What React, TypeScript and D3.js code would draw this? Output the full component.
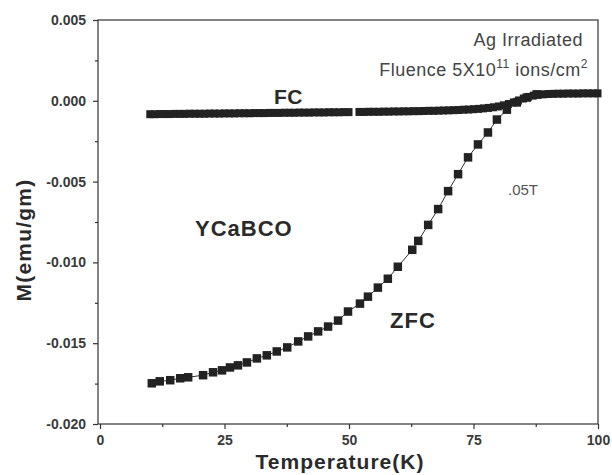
import React, { useRef, useEffect } from "react";
import { select, scaleLinear, axisBottom, axisLeft, line } from "d3";

// FC branch (field cooled), roughly every 1 K
const fcTemp = [
  10, 11, 12, 13, 14, 15, 16, 17, 18, 19, 20, 21, 22, 23, 24, 25, 26, 27, 28, 29,
  30, 31, 32, 33, 34, 35, 36, 37, 38, 39, 40, 41, 42, 43, 44, 45, 46, 47, 48, 49,
  50, 52, 53, 54, 55, 56, 57, 58, 59, 60, 61, 62, 63, 64, 65, 66, 67, 68, 69, 70,
  71, 72, 73, 74, 75, 76, 77, 78, 79, 80, 81, 82, 83, 84, 85, 86, 87, 88, 89, 90,
  91, 92, 93, 94, 95, 96, 97, 98, 99, 100
];
const fcM = [
  -0.00083, -0.00083, -0.00082, -0.00082, -0.00082, -0.00081, -0.00081, -0.00081, -0.0008, -0.0008,
  -0.0008, -0.0008, -0.00079, -0.00079, -0.00079, -0.00078, -0.00078, -0.00078, -0.00077, -0.00077,
  -0.00077, -0.00076, -0.00076, -0.00076, -0.00075, -0.00075, -0.00075, -0.00074, -0.00074, -0.00074,
  -0.00073, -0.00073, -0.00073, -0.00072, -0.00072, -0.00072, -0.00071, -0.00071, -0.00071, -0.0007,
  -0.0007, -0.00069, -0.00069, -0.00068, -0.00068, -0.00068, -0.00067, -0.00067, -0.00066, -0.00066,
  -0.00065, -0.00065, -0.00064, -0.00064, -0.00063, -0.00062, -0.00062, -0.00061, -0.0006, -0.00059,
  -0.00058, -0.00057, -0.00055, -0.00054, -0.00052, -0.0005, -0.00047, -0.00044, -0.0004, -0.00035,
  -0.00028, -0.0002, -0.0001, 0.00002, 0.00014, 0.00024, 0.00032, 0.00037, 0.0004, 0.00042,
  0.00043, 0.00044, 0.00044, 0.00045, 0.00045, 0.00045, 0.00046, 0.00046, 0.00046, 0.00046
];

// ZFC branch (zero field cooled)
const zfcTemp = [
  10.4, 12.0, 14.1, 16.1, 17.7, 20.7, 22.7, 24.5, 26.1, 27.7, 29.5, 31.5, 33.5, 35.5, 37.6,
  39.8, 41.8, 43.8, 45.8, 47.8, 49.8, 52.2, 53.8, 55.8, 57.8, 59.8, 62.7, 63.9, 65.9, 67.9,
  69.9, 71.9, 73.9, 75.9, 77.9, 79.7, 81.7, 83.7, 85.7, 87.7
];
const zfcM = [
  -0.01748, -0.01736, -0.01729, -0.01717, -0.01711, -0.01698, -0.0168, -0.01668, -0.0165, -0.01637,
  -0.01619, -0.01594, -0.01575, -0.01551, -0.01526, -0.01489, -0.01458, -0.01427, -0.01397, -0.0136,
  -0.01304, -0.01255, -0.01212, -0.01156, -0.01101, -0.01027, -0.00922, -0.00867, -0.00768, -0.0067,
  -0.00559, -0.00454, -0.0035, -0.0027, -0.00196, -0.00116, -0.00055, -0.0001, 0.0002, 0.0004
];

const xTicks = [0, 25, 50, 75, 100];
const yTicks = [0.005, 0.0, -0.005, -0.01, -0.015, -0.02];
const xMinor = [12.5, 37.5, 62.5, 87.5];
const yMinor = [0.0025, -0.0025, -0.0075, -0.0125, -0.0175];

const W = 612;
const H = 475;
const left = 98;
const right = 598;
const top = 20;
const bottom = 424;
const font = "Liberation Sans, Arial, sans-serif";

const App = () => {
  const gRef = useRef(null);

  useEffect(() => {
    const root = select(gRef.current);
    root.selectAll("*").remove();

    const x = scaleLinear().domain([0, 100]).range([left + 2, right]);
    const y = scaleLinear().domain([-0.02, 0.005]).range([bottom, top]);

    // frame
    root
      .append("rect")
      .attr("x", left)
      .attr("y", top)
      .attr("width", right - left)
      .attr("height", bottom - top)
      .attr("fill", "none")
      .attr("stroke", "#333")
      .attr("stroke-width", 1.2);

    // minor ticks
    root
      .append("g")
      .attr("transform", `translate(0,${bottom})`)
      .call(axisBottom(x).tickValues(xMinor).tickSize(3).tickFormat(() => ""))
      .call(g => g.select(".domain").remove());
    root
      .append("g")
      .attr("transform", `translate(${left},0)`)
      .call(axisLeft(y).tickValues(yMinor).tickSize(3).tickFormat(() => ""))
      .call(g => g.select(".domain").remove());

    // major ticks
    root
      .append("g")
      .attr("transform", `translate(0,${bottom})`)
      .call(axisBottom(x).tickValues(xTicks).tickSize(5).tickPadding(6).tickFormat(d => String(d)))
      .call(g => g.select(".domain").remove());
    root
      .append("g")
      .attr("transform", `translate(${left},0)`)
      .call(axisLeft(y).tickValues(yTicks).tickSize(5).tickPadding(7).tickFormat(d => (+d).toFixed(3)))
      .call(g => g.select(".domain").remove());

    root.selectAll(".tick line").attr("stroke", "#333").attr("stroke-width", 1.2);
    root
      .selectAll(".tick text")
      .attr("fill", "#3a3a3a")
      .attr("font-family", font)
      .attr("font-weight", "bold")
      .attr("font-size", 14);

    // FC markers
    root
      .append("g")
      .selectAll("rect")
      .data(fcTemp.map((t, i) => [t, fcM[i]]))
      .join("rect")
      .attr("x", d => x(d[0]) - 3.5)
      .attr("y", d => y(d[1]) - 4)
      .attr("width", 7)
      .attr("height", 8)
      .attr("fill", "#222");

    // ZFC line + markers
    const zfc = zfcTemp.map((t, i) => [t, zfcM[i]]);
    const myLine = line()
      .x(d => x(d[0]))
      .y(d => y(d[1]));
    root
      .append("path")
      .attr("d", myLine(zfc))
      .attr("fill", "none")
      .attr("stroke", "#333")
      .attr("stroke-width", 1);
    root
      .append("g")
      .selectAll("rect")
      .data(zfc)
      .join("rect")
      .attr("x", d => x(d[0]) - 4.25)
      .attr("y", d => y(d[1]) - 4.25)
      .attr("width", 8.5)
      .attr("height", 8.5)
      .attr("fill", "#222");
  }, []);

  return (
    <svg
      width={W}
      height={H}
      style={{ position: "absolute", left: 0, top: 0, background: "#fff", display: "block" }}
    >
      <g ref={gRef} />
      <text x={274} y={104} fontFamily={font} fontWeight="bold" fontSize={21} letterSpacing={0.5} fill="#2a2a2a">FC</text>
      <text x={195} y={236} fontFamily={font} fontWeight="bold" fontSize={22} letterSpacing={1} fill="#2a2a2a">YCaBCO</text>
      <text x={390} y={328} fontFamily={font} fontWeight="bold" fontSize={22} letterSpacing={1} fill="#2a2a2a">ZFC</text>
      <text x={508} y={195} fontFamily={font} fontSize={15} fill="#555">.05T</text>
      <text x={583} y={46} textAnchor="end" fontFamily={font} fontSize={18} letterSpacing={0.5} fill="#444">Ag Irradiated</text>
      <text x={588} y={76} textAnchor="end" fontFamily={font} fontSize={18} letterSpacing={0.5} fill="#444">
        Fluence 5X10<tspan dy={-8} fontSize={12}>11</tspan>
        <tspan dy={8}> ions/cm</tspan>
        <tspan dy={-8} fontSize={12}>2</tspan>
      </text>
      <text x={340} y={469} textAnchor="middle" fontFamily={font} fontWeight="bold" fontSize={21} letterSpacing={1} fill="#2a2a2a">
        Temperature(K)
      </text>
      <text
        transform="translate(31,240) rotate(-90)"
        textAnchor="middle"
        fontFamily={font}
        fontWeight="bold"
        fontSize={21}
        letterSpacing={1.2}
        fill="#2a2a2a"
      >
        M(emu/gm)
      </text>
    </svg>
  );
};

export default App;
